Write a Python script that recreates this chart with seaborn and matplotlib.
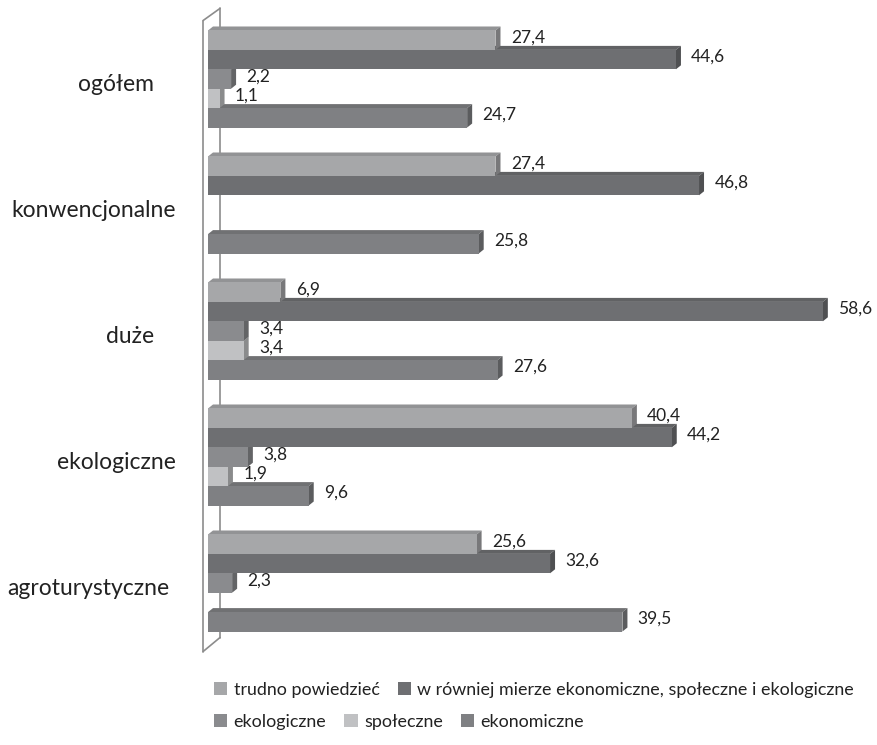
import matplotlib
matplotlib.use("Agg")
import matplotlib.pyplot as plt
import matplotlib.colors as mcolors
from matplotlib.patches import Polygon
import numpy as np
import pandas as pd
import seaborn as sns

# ---- data ----
categories = ["ogółem", "konwencjonalne", "duże", "ekologiczne", "agroturystyczne"]
series = ["trudno powiedzieć",
          "w równiej mierze ekonomiczne, społeczne i ekologiczne",
          "ekologiczne", "społeczne", "ekonomiczne"]
trudno = [27.4, 27.4, 6.9, 40.4, 25.6]
rowniej = [44.6, 46.8, 58.6, 44.2, 32.6]
ekolog = [2.2, None, 3.4, 3.8, 2.3]
spolecz = [1.1, None, 3.4, 1.9, None]
ekonom = [24.7, 25.8, 27.6, 9.6, 39.5]

colors = ["#a6a7a9", "#6e6f72", "#8a8b8e", "#c0c1c3", "#7f8083"]
# x centre (pixels) of each category label, as in the original layout
label_centres = [116, 94, 130, 116, 88]

rows = []
for name, vals in zip(series, [trudno, rowniej, ekolog, spolecz, ekonom]):
    for cat, v in zip(categories, vals):
        if v is not None:
            rows.append({"kategoria": cat, "seria": name, "wartosc": v})
df = pd.DataFrame(rows)

sns.set_theme(style="white")
plt.rcParams["font.family"] = ["Lato", "DejaVu Sans"]

W, H = 878, 745
fig = plt.figure(figsize=(W / 100, H / 100), dpi=100)
ax_left, ax_w = 208, 661
ax = fig.add_axes([ax_left / W, 1 - 646 / H, ax_w / W, 630 / H])

sns.barplot(data=df, y="kategoria", x="wartosc", hue="seria",
            order=categories, hue_order=series, palette=colors,
            orient="h", width=0.77, saturation=1, linewidth=0,
            edgecolor="none", ax=ax, zorder=10)

handles, labels = ax.get_legend_handles_labels()
if ax.get_legend() is not None:
    ax.get_legend().remove()

ax.set_xlim(0, 63)
ax.set_ylim(4.5, -0.5)

# pseudo-3D depth faces for each bar, plus value labels
px_per_unit = ax_w / 63
dx = 5 / px_per_unit
dy = 4 / 126
n = len(ax.containers)
for i, cont in enumerate(ax.containers):
    for p in cont.patches:
        w = p.get_width()
        if not np.isfinite(w) or w == 0:
            continue
        x0 = p.get_x()
        ya, yb = p.get_y(), p.get_y() + p.get_height()
        ytop, ybot = min(ya, yb), max(ya, yb)
        fc = np.array(mcolors.to_rgb(p.get_facecolor()))
        z = 5 + (n - i) * 0.1
        ax.add_patch(Polygon([(x0, ytop), (x0 + w, ytop), (x0 + w + dx, ytop - dy),
                              (x0 + dx, ytop - dy)], closed=True,
                             facecolor=fc * 0.88, edgecolor="none", zorder=z))
        ax.add_patch(Polygon([(x0 + w, ytop), (x0 + w + dx, ytop - dy),
                              (x0 + w + dx, ybot - dy), (x0 + w, ybot)], closed=True,
                             facecolor=fc * 0.72, edgecolor="none", zorder=z + 0.05))
        ax.annotate(f"{w:.1f}".replace(".", ","), xy=(x0 + w, (ytop + ybot) / 2),
                    xytext=(11, 2), textcoords="offset points",
                    ha="left", va="center", fontsize=12.5, color="#222222",
                    zorder=20)

# back wall
wall = dict(color="#8c8c8c", lw=1.2, clip_on=False, zorder=1)
ax.plot([-0.47, -0.47], [-0.464, 4.544], **wall)
ax.plot([1.14, 1.14], [-0.56, 4.433], **wall)
ax.plot([-0.47, 1.14], [-0.464, -0.56], **wall)
ax.plot([-0.47, 1.14], [4.544, 4.433], **wall)

for s in ax.spines.values():
    s.set_visible(False)
ax.set_xticks([])
ax.set_yticks([])
ax.set_xlabel("")
ax.set_ylabel("")

# category labels
for k, (cat, cx) in enumerate(zip(categories, label_centres)):
    ax.text((cx - ax_left) / ax_w, k + 0.04, cat, transform=ax.get_yaxis_transform(),
            ha="center", va="center", fontsize=16.5, color="#222222")

leg_kw = dict(frameon=False, loc="center left", fontsize=12.9,
              handlelength=0.75, handleheight=0.75, handletextpad=0.35,
              columnspacing=1.0, labelcolor="#222222", borderpad=0.0,
              borderaxespad=0.0)
fig.legend(handles[:2], labels[:2], ncol=2,
           bbox_to_anchor=(214 / W, 1 - 690 / H), **leg_kw)
fig.legend(handles[2:], labels[2:], ncol=3,
           bbox_to_anchor=(214 / W, 1 - 722 / H), **leg_kw)

fig.savefig("out.png", dpi=100)
